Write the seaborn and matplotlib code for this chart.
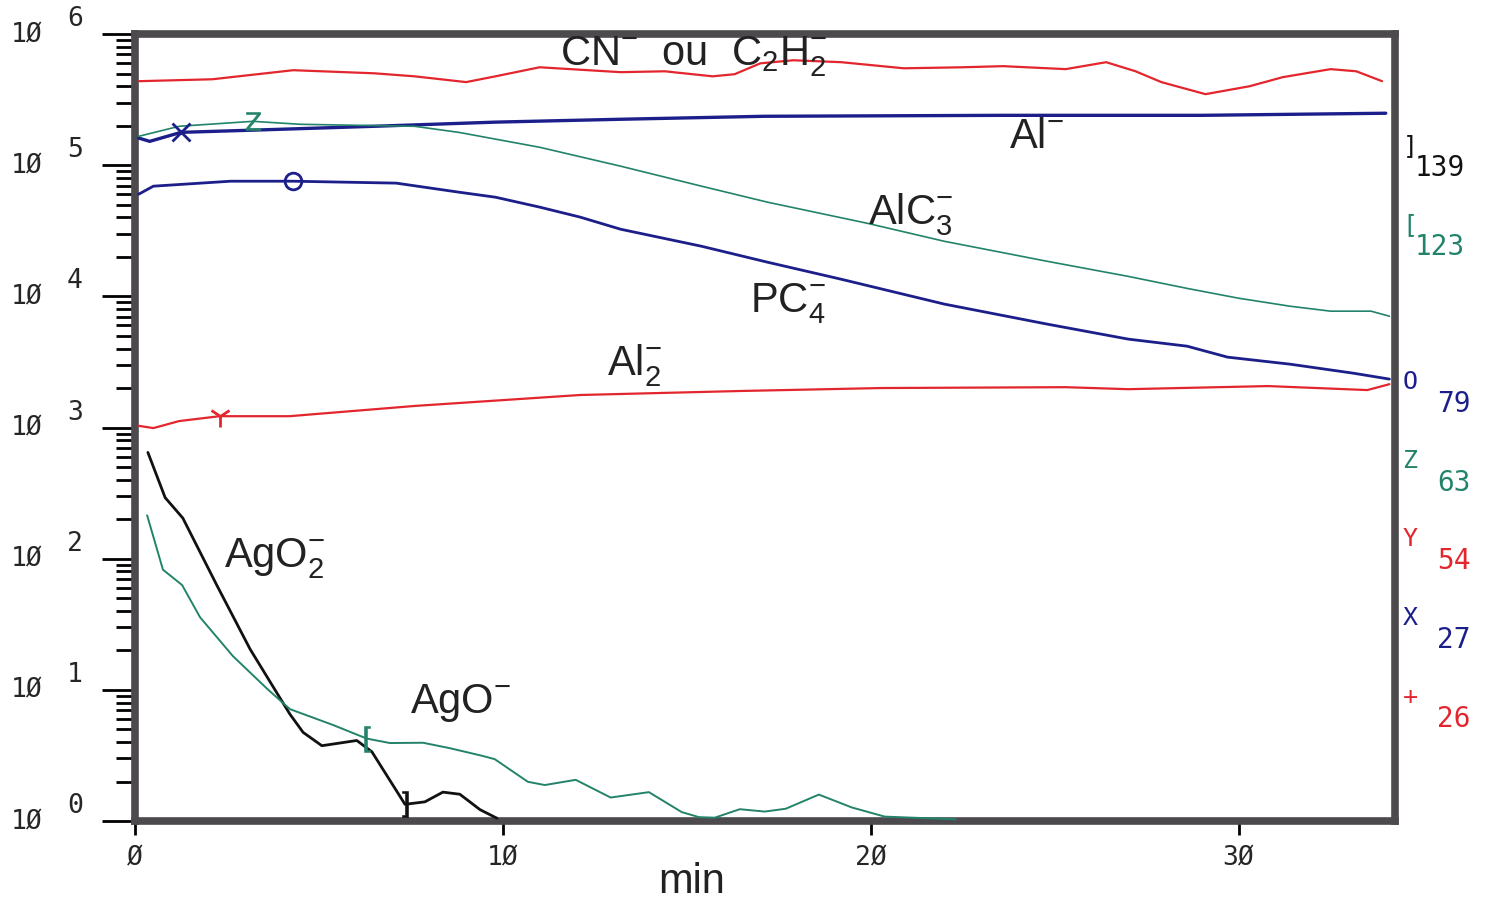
import numpy as np
import matplotlib
matplotlib.use("Agg")
import matplotlib.pyplot as plt
import matplotlib.ticker as mticker
import seaborn as sns

# --- data (time in min, intensity in counts) ---
t_cn = [0.1, 2.1, 4.3, 6.5, 7.6, 9.0, 9.8, 11.0, 13.2, 14.4, 15.7, 16.3, 17.0, 17.9,
        19.2, 20.9, 22.5, 23.6, 25.3, 26.4, 27.2, 27.9, 29.1, 30.3, 31.2, 32.5, 33.2, 33.9]
v_cn = [4.37e5, 4.52e5, 5.30e5, 5.02e5, 4.76e5, 4.30e5, 4.76e5, 5.58e5, 5.12e5, 5.20e5,
        4.76e5, 4.94e5, 5.98e5, 6.31e5, 6.10e5, 5.48e5, 5.58e5, 5.69e5, 5.40e5, 6.10e5,
        5.20e5, 4.30e5, 3.48e5, 4.00e5, 4.69e5, 5.40e5, 5.20e5, 4.37e5]

t_al = [0.1, 0.4, 1.25, 3.2, 6.5, 9.8, 13.2, 17.1, 23.6, 29.0, 34.0]
v_al = [1.61e5, 1.52e5, 1.78e5, 1.85e5, 1.98e5, 2.13e5, 2.24e5, 2.36e5, 2.40e5, 2.40e5, 2.49e5]

t_alc3 = [0.1, 1.2, 3.2, 4.5, 7.6, 8.8, 11.0, 13.2, 15.4, 17.2, 19.9, 22.0, 24.8, 27.0,
          28.6, 30.0, 31.4, 32.5, 33.6, 34.1]
v_alc3 = [1.66e5, 1.98e5, 2.16e5, 2.05e5, 1.98e5, 1.78e5, 1.37e5, 9.83e4, 6.92e4, 5.22e4,
          3.61e4, 2.63e4, 1.85e4, 1.42e4, 1.15e4, 9.68e3, 8.41e3, 7.71e3, 7.71e3, 7.06e3]

t_pc4 = [0.1, 0.5, 2.6, 4.3, 7.1, 8.8, 9.8, 11.0, 12.1, 13.2, 15.4, 17.2, 19.2, 22.0,
         24.8, 27.0, 28.6, 29.7, 31.4, 33.1, 34.1]
v_pc4 = [6.01e4, 6.92e4, 7.55e4, 7.55e4, 7.30e4, 6.23e4, 5.70e4, 4.79e4, 4.02e4, 3.25e4,
         2.41e4, 1.82e4, 1.35e4, 8.73e3, 6.14e3, 4.72e3, 4.17e3, 3.44e3, 3.04e3, 2.60e3, 2.34e3]

t_al2 = [0.1, 0.5, 1.2, 2.3, 4.2, 7.6, 12.1, 16.5, 20.3, 25.3, 27.0, 30.8, 33.5, 34.1]
v_al2 = [1.03e3, 9.9e2, 1.12e3, 1.22e3, 1.22e3, 1.46e3, 1.77e3, 1.90e3, 2.00e3, 2.03e3,
         1.96e3, 2.07e3, 1.93e3, 2.14e3]

t_ago2 = [0.35, 0.82, 1.3, 2.23, 3.13, 4.21, 4.57, 5.08, 6.03, 6.44, 7.34, 7.88, 8.37,
          8.83, 9.38, 9.84]
v_ago2 = [646, 292, 204, 62.3, 20.4, 6.53, 4.74, 3.75, 4.11, 3.37, 1.34, 1.40, 1.66,
          1.60, 1.22, 1.05]

t_ago = [0.33, 0.76, 1.28, 1.77, 2.66, 3.59, 4.21, 5.38, 6.30, 6.93, 7.83, 8.56, 9.46,
         9.78, 10.68, 11.14, 11.98, 12.93, 13.97, 14.86, 15.33, 15.76, 16.44, 17.12,
         17.69, 18.59, 19.48, 20.38, 22.31]
v_ago = [214, 82.4, 63.0, 35.7, 18.1, 10.2, 7.13, 5.40, 4.25, 3.93, 3.95, 3.59, 3.13,
         2.96, 1.99, 1.88, 2.06, 1.51, 1.66, 1.17, 1.07, 1.06, 1.23, 1.18, 1.24, 1.59,
         1.27, 1.08, 1.03]

masses = ["139", "123", "79", "63", "54", "27", "26"]
symbols = ["]", "[", "O", "Z", "Y", "X", "+"]

RED = "#e3262d"
BLUE = "#1c1f8a"
TEAL = "#23836a"
BLACK = "#111111"
legend_colors = [BLACK, TEAL, BLUE, TEAL, RED, BLUE, RED]

sns.set_style("white")
plt.rcParams["font.family"] = ["Liberation Sans", "DejaVu Sans"]
plt.rcParams["mathtext.fontset"] = "custom"
plt.rcParams["mathtext.rm"] = "Liberation Sans"
plt.rcParams["mathtext.it"] = "Liberation Sans"
plt.rcParams["mathtext.bf"] = "Liberation Sans"

fig = plt.figure(figsize=(14.9, 9.03), dpi=100)
ax = fig.add_axes([0.0906, 0.0897, 0.8456, 0.8715])

# (t, values, colour, width, marker, marker index, marker size, hollow)
series = [
    (t_cn, v_cn, RED, 1.6, None, None, 0, False),
    (t_al, v_al, BLUE, 2.4, "x", 2, 13, True),
    (t_alc3, v_alc3, TEAL, 1.2, r"$\mathsf{Z}$", 2, 13, False),
    (t_pc4, v_pc4, BLUE, 2.0, "o", 3, 12, True),
    (t_al2, v_al2, RED, 1.6, "1", 3, 16, True),
    (t_ago2, v_ago2, BLACK, 2.0, r"$]$", 10, 18, False),
    (t_ago, v_ago, TEAL, 1.4, r"$[$", 8, 18, False),
]

for t, v, c, lw, mk, mi, ms, hollow in series:
    sns.lineplot(x=t, y=v, ax=ax, color=c, lw=lw, sort=False, estimator=None, zorder=3)
    if mk is not None:
        if hollow:
            ax.plot(t[mi], v[mi], marker=mk, ms=ms, color=c, mfc="none", mew=2, zorder=4)
        else:
            ax.plot(t[mi], v[mi], marker=mk, ms=ms, color=c, mfc=c, mec=c, mew=0.4, zorder=4)

ax.set_yscale("log")
ax.set_ylim(1, 1e6)
ax.set_xlim(0, 34.25)

for s in ax.spines.values():
    s.set_linewidth(5.5)
    s.set_color("#4d4a4e")

ax.yaxis.set_major_locator(mticker.FixedLocator([10.0 ** k for k in range(7)]))
ax.yaxis.set_minor_locator(mticker.LogLocator(base=10, subs=np.arange(2, 10), numticks=20))
ax.yaxis.set_major_formatter(mticker.NullFormatter())
ax.yaxis.set_minor_formatter(mticker.NullFormatter())
ax.tick_params(axis="y", which="major", direction="out", length=24, width=2, color="black", left=True)
ax.tick_params(axis="y", which="minor", direction="out", length=14, width=2, color="black", left=True)

plot_font = "DejaVu Sans Mono"
ax.set_xticks([0, 10, 20, 30])
ax.set_xticklabels(["Ø", "1Ø", "2Ø", "3Ø"], fontfamily=plot_font, fontsize=19)
ax.tick_params(axis="x", which="major", direction="out", length=10, width=2, color="black",
               bottom=True, pad=7)

# decade labels in the plotter style
for k in range(7):
    ax.annotate("1Ø", xy=(0, 10.0 ** k), xycoords=("axes fraction", "data"),
                xytext=(-124, 0), textcoords="offset pixels", ha="left", va="center",
                fontfamily=plot_font, fontsize=19, annotation_clip=False)
    ax.annotate(str(k), xy=(0, 10.0 ** k), xycoords=("axes fraction", "data"),
                xytext=(-60, 16), textcoords="offset pixels", ha="center", va="center",
                fontfamily=plot_font, fontsize=19, annotation_clip=False)

fig.text(692 / 1490, 1 - 882 / 903, "min", ha="center", va="center", fontsize=30,
         color="#222222")

# species labels on the curves
lab_kw = dict(transform=ax.transAxes, fontsize=30, color="#222222", va="baseline", ha="left")
ax.text(0.337, 0.961, r"$\mathrm{CN}^{-}\ \ \mathrm{ou}\ \ \mathrm{C}_{2}\mathrm{H}_{2}^{-}$", **lab_kw)
ax.text(0.694, 0.856, r"$\mathrm{Al}^{-}$", **lab_kw)
ax.text(0.582, 0.759, r"$\mathrm{AlC}_{3}^{-}$", **lab_kw)
ax.text(0.488, 0.647, r"$\mathrm{PC}_{4}^{-}$", **lab_kw)
ax.text(0.375, 0.567, r"$\mathrm{Al}_{2}^{-}$", **lab_kw)
ax.text(0.071, 0.323, r"$\mathrm{AgO}_{2}^{-}$", **lab_kw)
ax.text(0.218, 0.138, r"$\mathrm{AgO}^{-}$", **lab_kw)

# mass key on the right
slots = [0, 1, 3, 4, 5, 6, 7]
for i, (m, sym, c) in enumerate(zip(masses, symbols, legend_colors)):
    yy = 146 + 78.7 * slots[i]
    fig.text(1410 / 1490, 1 - yy / 903, sym, color=c, ha="center", va="center",
             fontfamily=plot_font, fontsize=18)
    x_num = 1415 if len(m) == 3 else 1437
    fig.text(x_num / 1490, 1 - (yy + 22) / 903, m, color=c, ha="left", va="center",
             fontfamily=plot_font, fontsize=20)

fig.savefig("out.png", dpi=100)
